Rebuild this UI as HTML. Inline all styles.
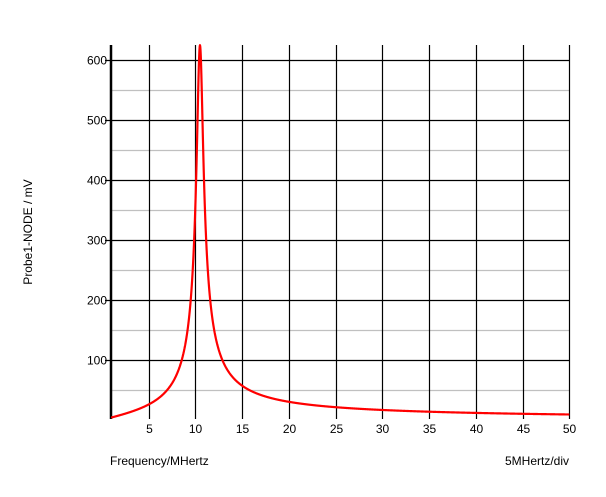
<!DOCTYPE html>
<html><head><meta charset="utf-8"><style>
body{margin:0;background:#fff;}
svg{display:block;font-family:"Liberation Sans",Arial,sans-serif;}
</style></head><body>
<svg id="s" width="606" height="497" viewBox="0 0 606 497" xmlns="http://www.w3.org/2000/svg">
<defs><clipPath id="c"><rect x="111" y="44" width="460" height="376"/></clipPath></defs>
<g id="grid"></g>
<line x1="111" y1="45" x2="111" y2="419" stroke="#000" stroke-width="2.5"/>
<path id="curve" d="" fill="none" stroke="#f00" stroke-width="2.2" clip-path="url(#c)"/>
<g font-size="12" fill="#000" id="labels"></g>
<text x="110" y="465" font-size="12">Frequency/MHertz</text>
<text x="569" y="465" font-size="12" text-anchor="end">5MHertz/div</text>
<text transform="translate(32,232) rotate(-90)" font-size="12" text-anchor="middle">Probe1-NODE / mV</text>
</svg>
<script>
var ns="http://www.w3.org/2000/svg";
function X(f){return 101.8+9.35*f;}
function Y(v){return 420-0.6*v;}
var g=document.getElementById('grid'),L=document.getElementById('labels');
function ln(x1,y1,x2,y2,c){var l=document.createElementNS(ns,'line');l.setAttribute('x1',x1);l.setAttribute('y1',y1);l.setAttribute('x2',x2);l.setAttribute('y2',y2);l.setAttribute('stroke',c);l.setAttribute('stroke-width',1.2);g.appendChild(l);}
function tx(x,y,t,a){var e=document.createElementNS(ns,'text');e.setAttribute('x',x);e.setAttribute('y',y);e.setAttribute('text-anchor',a);e.textContent=t;L.appendChild(e);}
for(var v=50;v<=600;v+=50){var y=Math.round(Y(v))+0.5;if(v%100){ln(111,y,570,y,'#c0c0c0');}else{ln(105,y,570,y,'#000');tx(107,y+4,v,'end');}}
for(var f=5;f<=50;f+=5){var x=Math.round(X(f))+0.5;ln(x,45,x,419,'#000');tx(x,433,f,'middle');}
var f0=10.5,Q=14.9,K=440,d='';
for(var f=1;f<=50;f+=0.01){var v=K*f/Math.sqrt(Math.pow(f0*f0-f*f,2)+Math.pow(f*f0/Q,2));d+=(d?'L':'M')+X(f).toFixed(2)+' '+Y(v).toFixed(2);}
document.getElementById('curve').setAttribute('d',d);
</script>
</body></html>
